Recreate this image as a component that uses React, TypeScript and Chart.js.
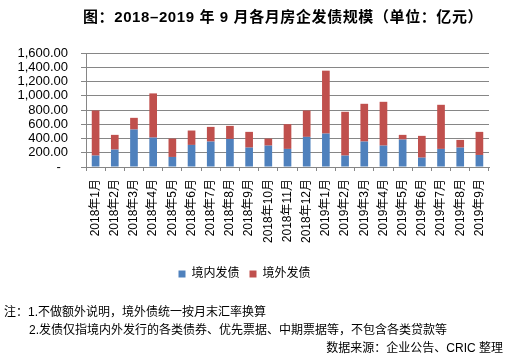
import React, { useEffect, useRef } from "react";
import { Chart, registerables } from "chart.js";

Chart.register(...registerables);

const categories = [
  "2018年1月", "2018年2月", "2018年3月", "2018年4月", "2018年5月", "2018年6月",
  "2018年7月", "2018年8月", "2018年9月", "2018年10月", "2018年11月", "2018年12月",
  "2019年1月", "2019年2月", "2019年3月", "2019年4月", "2019年5月", "2019年6月",
  "2019年7月", "2019年8月", "2019年9月",
];
const domestic = [160, 244, 526, 413, 141, 310, 357, 394, 272, 300, 254, 423, 469, 160, 357, 300, 385, 131, 254, 272, 169];
const overseas = [633, 207, 164, 620, 258, 202, 206, 183, 221, 99, 347, 370, 883, 615, 530, 615, 66, 306, 619, 108, 324];
const seriesNames = ["境内发债", "境外发债"];
const seriesColors = ["#4F81BD", "#C0504D"];

const FONT = "'Liberation Sans', Arial, 'Noto Sans CJK SC', sans-serif";

export default function App() {
  const ref = useRef<HTMLCanvasElement | null>(null);
  useEffect(() => {
    document.body.style.margin = "0";
    const ctx = ref.current;
    if (!ctx) return;
    const chart = new Chart(ctx, {
      type: "bar",
      data: {
        labels: categories,
        datasets: [
          { label: seriesNames[0], data: domestic, backgroundColor: seriesColors[0], barPercentage: 0.4, categoryPercentage: 1 },
          { label: seriesNames[1], data: overseas, backgroundColor: seriesColors[1], barPercentage: 0.4, categoryPercentage: 1 },
        ],
      },
      options: {
        animation: false,
        responsive: false,
        layout: { padding: { left: 0, right: 21, top: 53, bottom: 70 } },
        plugins: {
          title: { display: false },
          tooltip: { enabled: false },
          legend: {
            position: "bottom",
            labels: {
              boxWidth: 7,
              boxHeight: 7,
              padding: 10,
              color: "#000",
              font: { family: FONT, size: 12 },
            },
          },
        },
        scales: {
          x: {
            stacked: true,
            afterFit: (scale: any) => { scale.height = 91; },
            grid: { offset: true, drawOnChartArea: false, drawTicks: true, tickLength: 4, color: "#868686" },
            border: { color: "#868686" },
            ticks: {
              autoSkip: false,
              maxRotation: 90,
              minRotation: 90,
              padding: 8,
              color: "#000",
              font: { family: FONT, size: 12 },
            },
          },
          y: {
            stacked: true,
            min: 0,
            max: 1600,
            afterFit: (scale: any) => { scale.width = 86; },
            grid: { color: "#868686", tickLength: 5 },
            border: { color: "#868686" },
            ticks: {
              autoSkip: false,
              stepSize: 200,
              padding: 13,
              color: "#000",
              font: { family: FONT, size: 13 },
              callback: (v: any) =>
                Number(v) === 0
                  ? "-  "
                  : Number(v).toLocaleString("en-US", { minimumFractionDigits: 2, maximumFractionDigits: 2 }),
            },
          },
        },
      },
    });
    return () => chart.destroy();
  }, []);

  const textStyle: React.CSSProperties = {
    position: "absolute",
    fontFamily: FONT,
    fontSize: 12,
    lineHeight: "14px",
    color: "#000",
    whiteSpace: "nowrap",
  };

  return (
    <div style={{ position: "relative", width: 510, height: 360, background: "#fff", overflow: "hidden" }}>
      <canvas ref={ref} width={510} height={360} style={{ position: "absolute", left: 0, top: 0 }} />
      <div style={{ ...textStyle, left: 83, top: 8, fontSize: 15, lineHeight: "18px", fontWeight: "bold", letterSpacing: 0.6 }}>
        图：2018–2019 年 9 月各月房企发债规模（单位：亿元）
      </div>
      <div style={{ ...textStyle, left: 4, top: 305 }}>注：1.不做额外说明，境外债统一按月末汇率换算</div>
      <div style={{ ...textStyle, left: 29, top: 323 }}>2.发债仅指境内外发行的各类债券、优先票据、中期票据等，不包含各类贷款等</div>
      <div style={{ ...textStyle, right: 7, top: 341 }}>数据来源：企业公告、CRIC 整理</div>
    </div>
  );
}
